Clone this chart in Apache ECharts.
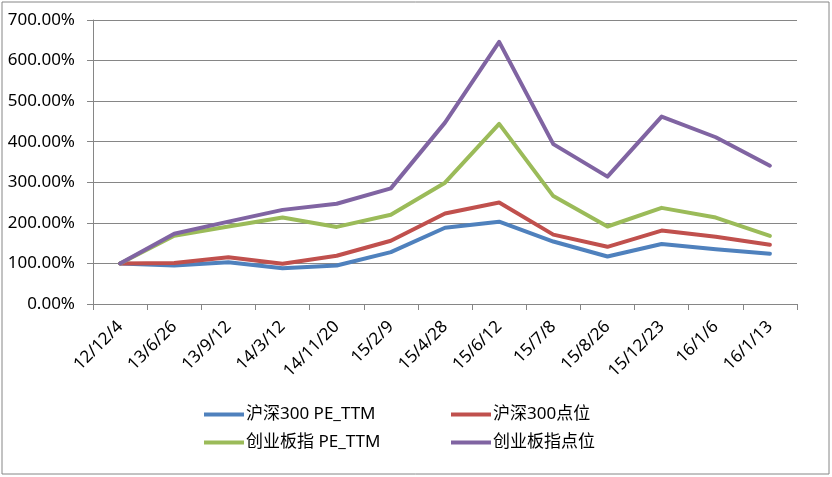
<!DOCTYPE html>
<html>
<head>
<meta charset="utf-8">
<script src="https://cdn.jsdelivr.net/npm/echarts@6/dist/echarts.min.js"></script>
<style>
html,body{margin:0;padding:0;background:#fff;}
#chart{width:832px;height:477px;}
</style>
</head>
<body>
<div id="chart"></div>
<script>
var categories = ['12/12/4','13/6/26','13/9/12','14/3/12','14/11/20','15/2/9','15/4/28','15/6/12','15/7/8','15/8/26','15/12/23','16/1/6','16/1/13'];
var seriesNames = ['沪深300 PE_TTM','沪深300点位','创业板指 PE_TTM','创业板指点位'];
var hs300PE = [100, 95, 103, 88, 95, 128, 188, 203, 154, 117, 148, 135, 124];
var hs300Idx = [100, 101, 115, 99, 119, 156, 223, 250, 171, 141, 181, 166, 146];
var cybPE = [100, 168, 191, 213, 190, 220, 299, 444, 266, 191, 237, 213, 168];
var cybIdx = [100, 173, 203, 232, 247, 285, 447, 646, 394, 314, 462, 411, 341];
var yTicks = [0, 100, 200, 300, 400, 500, 600, 700];

var colors = ['#4F81BD', '#C0504D', '#9BBB59', '#8064A2'];
var font = '"Noto Sans", "Noto Sans CJK SC", sans-serif';
var chart = echarts.init(document.getElementById('chart'));
var dataArr = [hs300PE, hs300Idx, cybPE, cybIdx];
var legendBase = {
  orient: 'vertical', top: 401, itemWidth: 40, itemHeight: 4, itemGap: 11,
  icon: 'rect',
  textStyle: {fontFamily: font, fontSize: 17, color: '#000', padding: [0,0,0,-3]}
};
chart.setOption({
  animation: false,
  color: colors,
  graphic: [{type: 'rect', shape: {x: 2, y: 2, width: 827, height: 472}, style: {fill: 'none', stroke: '#868686', lineWidth: 1}}],
  grid: {left: 93, right: 35, top: 20, bottom: 173},
  legend: [
    Object.assign({}, legendBase, {left: 199, data: [seriesNames[0], seriesNames[2]]}),
    Object.assign({}, legendBase, {left: 446, data: [seriesNames[1], seriesNames[3]]})
  ],
  xAxis: {
    type: 'category', data: categories, boundaryGap: true,
    axisLine: {lineStyle: {color: '#868686', width: 1}},
    axisTick: {show: true, length: 6, lineStyle: {color: '#868686'}},
    axisLabel: {rotate: 45, margin: 20, interval: 0, fontFamily: font, fontSize: 17, color: '#000'}
  },
  yAxis: {
    type: 'value', min: yTicks[0], max: yTicks[yTicks.length-1], interval: 100,
    axisLine: {show: true, lineStyle: {color: '#868686', width: 1}},
    axisTick: {show: true, length: 6, lineStyle: {color: '#868686'}},
    splitLine: {lineStyle: {color: '#868686', width: 1}},
    axisLabel: {margin: 18, fontFamily: font, fontSize: 17, color: '#000',
      formatter: function(v){ return v.toFixed(2) + '%'; }}
  },
  series: dataArr.map(function(d, i){
    return {name: seriesNames[i], type: 'line', data: d, symbol: 'none',
      lineStyle: {width: 4, color: colors[i], cap: 'round', join: 'round'}, itemStyle: {color: colors[i]}};
  })
});
</script>
</body>
</html>
